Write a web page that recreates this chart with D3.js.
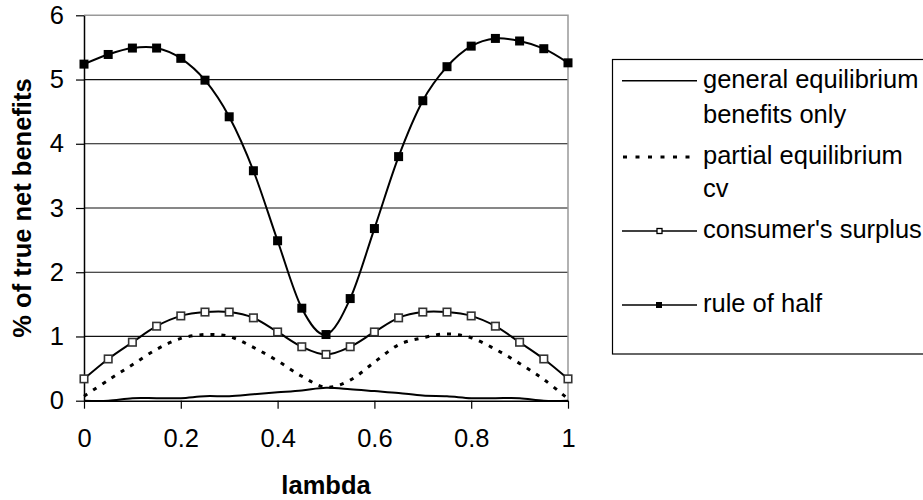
<!DOCTYPE html>
<html>
<head>
<meta charset="utf-8">
<script src="https://cdn.jsdelivr.net/npm/d3@7"></script>
<style>
  html, body { margin: 0; padding: 0; background: #fff; }
  svg { display: block; font-family: "Liberation Sans", Arial, sans-serif; }
</style>
</head>
<body>
<svg id="chart" width="923" height="500"></svg>
<script>
// ---- data ----
const lambda = [0, 0.05, 0.1, 0.15, 0.2, 0.25, 0.3, 0.35, 0.4, 0.45, 0.5,
                0.55, 0.6, 0.65, 0.7, 0.75, 0.8, 0.85, 0.9, 0.95, 1];
const generalEq = [0.0, 0.0, 0.04, 0.04, 0.04, 0.07, 0.07, 0.10, 0.13, 0.16, 0.20,
                   0.18, 0.15, 0.12, 0.08, 0.07, 0.04, 0.04, 0.04, 0.0, 0.0];
const partialEqCv = [0.07, 0.32, 0.56, 0.80, 0.97, 1.03, 1.00, 0.83, 0.62, 0.38, 0.21,
                     0.32, 0.60, 0.87, 0.98, 1.04, 0.98, 0.80, 0.58, 0.33, 0.03];
const consumerSurplus = [0.34, 0.65, 0.91, 1.16, 1.32, 1.38, 1.38, 1.29, 1.07, 0.84, 0.72,
                         0.84, 1.07, 1.29, 1.38, 1.38, 1.32, 1.16, 0.91, 0.65, 0.34];
const ruleOfHalf = [5.24, 5.39, 5.49, 5.49, 5.33, 4.99, 4.42, 3.58, 2.49, 1.44, 1.03,
                    1.59, 2.68, 3.80, 4.67, 5.20, 5.52, 5.64, 5.60, 5.48, 5.26];
const xTicks = [0, 0.2, 0.4, 0.6, 0.8, 1];
const xTickLabels = ["0", "0.2", "0.4", "0.6", "0.8", "1"];
const yTicks = [0, 1, 2, 3, 4, 5, 6];
const seriesNames = [["general equilibrium", "benefits only"], ["partial equilibrium", "cv"],
                     ["consumer's surplus"], ["rule of half"]];
const xTitle = "lambda";
const yTitle = "% of true net benefits";

// ---- layout ----
const svg = d3.select("#chart");
const L = 84, R = 568, T = 15.3, B = 400.7;
const x = d3.scaleLinear().domain([0, 1]).range([L, R]);
const y = d3.scaleLinear().domain([0, 6]).range([B, T]);
const FS = 25.5;

// gridlines
svg.append("g").selectAll("line").data(yTicks.filter(d => d > 0 && d < 6)).join("line")
  .attr("x1", L).attr("x2", R).attr("y1", d => y(d)).attr("y2", d => y(d))
  .attr("stroke", "#111").attr("stroke-width", 1.2);
// plot border top/right (gray)
svg.append("path")
  .attr("d", `M${L},${y(6)}H${R}V${B}`)
  .attr("fill", "none").attr("stroke", "#999").attr("stroke-width", 1.5);

// axes
const xAxis = d3.axisBottom(x).tickValues(xTicks).tickFormat((d, i) => xTickLabels[i])
  .tickSizeInner(8).tickSizeOuter(0).tickPadding(20);
const gx = svg.append("g").attr("transform", `translate(0,${B})`).call(xAxis);
const yAxis = d3.axisLeft(y).tickValues(yTicks).tickFormat(d3.format("d"))
  .tickSizeInner(8).tickSizeOuter(0).tickPadding(12);
const gy = svg.append("g").attr("transform", `translate(${L},0)`).call(yAxis);
[gx, gy].forEach(g => {
  g.select(".domain").attr("stroke", "#000").attr("stroke-width", 1.5);
  g.selectAll(".tick line").attr("stroke", "#000").attr("stroke-width", 1.2);
  g.selectAll(".tick text").attr("fill", "#000").style("font-size", FS + "px")
    .style("font-family", "Liberation Sans, Arial, sans-serif");
});
gx.selectAll(".tick text").attr("dy", "0.35em").attr("y", 37);

// axis titles
svg.append("text").attr("x", (L + R) / 2).attr("y", 485).attr("text-anchor", "middle")
  .attr("dominant-baseline", "central").style("font-size", FS + "px").style("font-weight", "bold")
  .text(xTitle);
svg.append("text").attr("transform", `translate(22,${(T + B) / 2}) rotate(-90)`)
  .attr("text-anchor", "middle").attr("dominant-baseline", "central")
  .style("font-size", FS + "px").style("font-weight", "bold").text(yTitle);

// series lines
const line = d3.line().x((d, i) => x(lambda[i])).y(d => y(d)).curve(d3.curveCatmullRom.alpha(0));
const plot = svg.append("g");
plot.append("path").attr("d", line(generalEq)).attr("fill", "none")
  .attr("stroke", "#000").attr("stroke-width", 2);
plot.append("path").attr("d", line(partialEqCv)).attr("fill", "none")
  .attr("stroke", "#000").attr("stroke-width", 3).attr("stroke-dasharray", "4,7");
plot.append("path").attr("d", line(consumerSurplus)).attr("fill", "none")
  .attr("stroke", "#000").attr("stroke-width", 2);
plot.append("path").attr("d", line(ruleOfHalf)).attr("fill", "none")
  .attr("stroke", "#000").attr("stroke-width", 2);

// markers
const ms = 7.5;
plot.append("g").selectAll("rect").data(consumerSurplus).join("rect")
  .attr("x", (d, i) => x(lambda[i]) - ms / 2).attr("y", d => y(d) - ms / 2)
  .attr("width", ms).attr("height", ms)
  .attr("fill", "#fff").attr("stroke", "#333").attr("stroke-width", 1.6);
const ms2 = 9;
plot.append("g").selectAll("rect").data(ruleOfHalf).join("rect")
  .attr("x", (d, i) => x(lambda[i]) - ms2 / 2).attr("y", d => y(d) - ms2 / 2)
  .attr("width", ms2).attr("height", ms2).attr("fill", "#000");

// legend
const lg = svg.append("g");
lg.append("rect").attr("x", 612.5).attr("y", 59.5).attr("width", 340).attr("height", 294.5)
  .attr("fill", "#fff").attr("stroke", "#000").attr("stroke-width", 1.2);
const rowY = [80.7, 157, 231, 305];
const lineH = 33;
seriesNames.forEach((names, k) => {
  const ly = rowY[k];
  const l = lg.append("line").attr("x1", 622).attr("x2", 697).attr("y1", ly).attr("y2", ly)
    .attr("stroke", "#000").attr("stroke-width", k === 1 ? 3 : 1.5);
  if (k === 1) l.attr("stroke-dasharray", "4,8.5").attr("x1", 623);
  if (k === 2) lg.append("rect").attr("x", 657).attr("y", ly - 2.5).attr("width", 5).attr("height", 5)
    .attr("fill", "#fff").attr("stroke", "#000").attr("stroke-width", 1.3);
  if (k === 3) lg.append("rect").attr("x", 656).attr("y", ly - 3).attr("width", 6).attr("height", 6)
    .attr("fill", "#000");
  names.forEach((n, j) => {
    lg.append("text").attr("x", 703).attr("y", ly - 2 + j * lineH + (k === 0 && j === 1 ? 2 : 0))
      .attr("dominant-baseline", "central").style("font-size", FS + "px").attr("fill", "#000").text(n);
  });
});
</script>
</body>
</html>
